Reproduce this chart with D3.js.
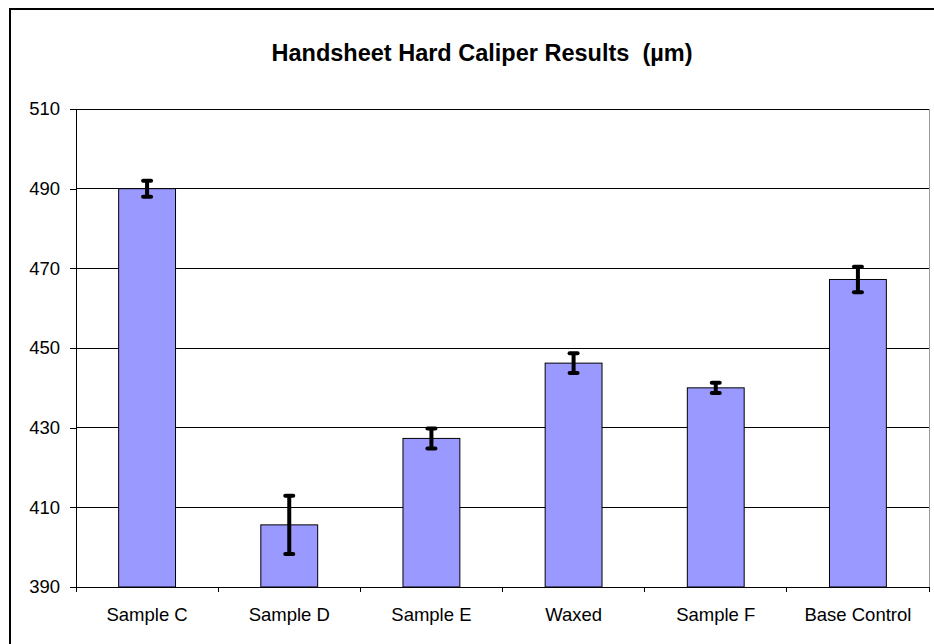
<!DOCTYPE html>
<html>
<head>
<meta charset="utf-8">
<script src="https://cdn.jsdelivr.net/npm/d3@7"></script>
<style>
  body { margin: 0; background: #fff; }
  svg { display: block; font-family: "Liberation Sans", Arial, sans-serif; }
</style>
</head>
<body>
<div id="chart"></div>
<script>
const categories = ["Sample C", "Sample D", "Sample E", "Waxed", "Sample F", "Base Control"];
const values = [490, 405.6, 427.3, 446.2, 440.0, 467.2];
const errors = [2.0, 7.3, 2.5, 2.5, 1.3, 3.2];
const yTicks = [390, 410, 430, 450, 470, 490, 510];

const W = 934, H = 644;
const margin = { top: 109, right: 5, bottom: 57, left: 76 };
const width = W - margin.left - margin.right,
    height = H - margin.top - margin.bottom;

const svg = d3.select("#chart").append("svg")
    .attr("width", W)
    .attr("height", H);

// outer chart border
svg.append("rect")
    .attr("x", 10).attr("y", 9)
    .attr("width", W + 20).attr("height", H + 20)
    .attr("fill", "none")
    .attr("stroke", "#000")
    .attr("stroke-width", 2);

svg.append("text")
    .attr("x", 482).attr("y", 61)
    .attr("text-anchor", "middle")
    .attr("font-size", "23.5px")
    .attr("font-weight", "bold")
    .style("white-space", "pre")
    .text("Handsheet Hard Caliper Results  (µm)");

const g = svg.append("g")
    .attr("transform", "translate(" + margin.left + "," + margin.top + ")");

const xScale = d3.scaleBand().domain(categories).range([0, width]).paddingInner(0).paddingOuter(0);
const yScale = d3.scaleLinear().domain([390, 510]).range([height, 0]);

// gridlines
g.selectAll(".grid")
    .data(yTicks)
    .enter().append("line")
    .attr("x1", 0).attr("x2", width)
    .attr("y1", d => yScale(d)).attr("y2", d => yScale(d))
    .attr("stroke", "#000")
    .attr("stroke-width", 1)
    .attr("shape-rendering", "crispEdges");

// right plot border
g.append("line")
    .attr("x1", width).attr("x2", width)
    .attr("y1", 0).attr("y2", height)
    .attr("stroke", "#999")
    .attr("shape-rendering", "crispEdges");

const yAxis = d3.axisLeft(yScale).tickValues(yTicks).tickSize(6).tickPadding(10);
const yG = g.append("g").call(yAxis)
    .attr("font-size", null).attr("font-family", null);
yG.select(".domain").attr("stroke", "#000").attr("shape-rendering", "crispEdges");
yG.selectAll(".tick line").attr("shape-rendering", "crispEdges");
yG.selectAll("text").style("font-size", "18.5px").attr("fill", "#000");

// x axis with ticks at category boundaries
g.append("line")
    .attr("x1", 0).attr("x2", width)
    .attr("y1", height).attr("y2", height)
    .attr("stroke", "#000")
    .attr("shape-rendering", "crispEdges");

const bounds = categories.map(c => xScale(c)).concat([width]);
g.selectAll(".xtick")
    .data(bounds)
    .enter().append("line")
    .attr("x1", d => d).attr("x2", d => d)
    .attr("y1", height).attr("y2", height + 5)
    .attr("stroke", "#000")
    .attr("shape-rendering", "crispEdges");

g.selectAll(".xlabel")
    .data(categories)
    .enter().append("text")
    .attr("x", d => xScale(d) + xScale.bandwidth() / 2)
    .attr("y", height + 34)
    .attr("text-anchor", "middle")
    .style("font-size", "18.5px")
    .text(d => d);

// bars (gap width 150%)
const barW = xScale.bandwidth() / 2.5;
const data = categories.map((c, i) => ({ cat: c, value: values[i], err: errors[i] }));

g.selectAll(".bar")
    .data(data)
    .enter().append("rect")
    .attr("x", d => xScale(d.cat) + (xScale.bandwidth() - barW) / 2)
    .attr("y", d => yScale(d.value))
    .attr("width", barW)
    .attr("height", d => height - yScale(d.value))
    .attr("fill", "#9999FF")
    .attr("stroke", "#000")
    .attr("stroke-width", 1);

// error bars
const eb = g.selectAll(".err")
    .data(data)
    .enter().append("g")
    .attr("transform", d => "translate(" + (xScale(d.cat) + xScale.bandwidth() / 2) + ",0)");

eb.append("line")
    .attr("x1", 0).attr("x2", 0)
    .attr("y1", d => yScale(d.value + d.err))
    .attr("y2", d => yScale(d.value - d.err))
    .attr("stroke", "#000")
    .attr("stroke-width", 4);

eb.selectAll(".cap")
    .data(d => [d.value + d.err, d.value - d.err])
    .enter().append("line")
    .attr("x1", -4).attr("x2", 4)
    .attr("y1", v => yScale(v)).attr("y2", v => yScale(v))
    .attr("stroke", "#000")
    .attr("stroke-width", 4)
    .attr("stroke-linecap", "round");
</script>
</body>
</html>
